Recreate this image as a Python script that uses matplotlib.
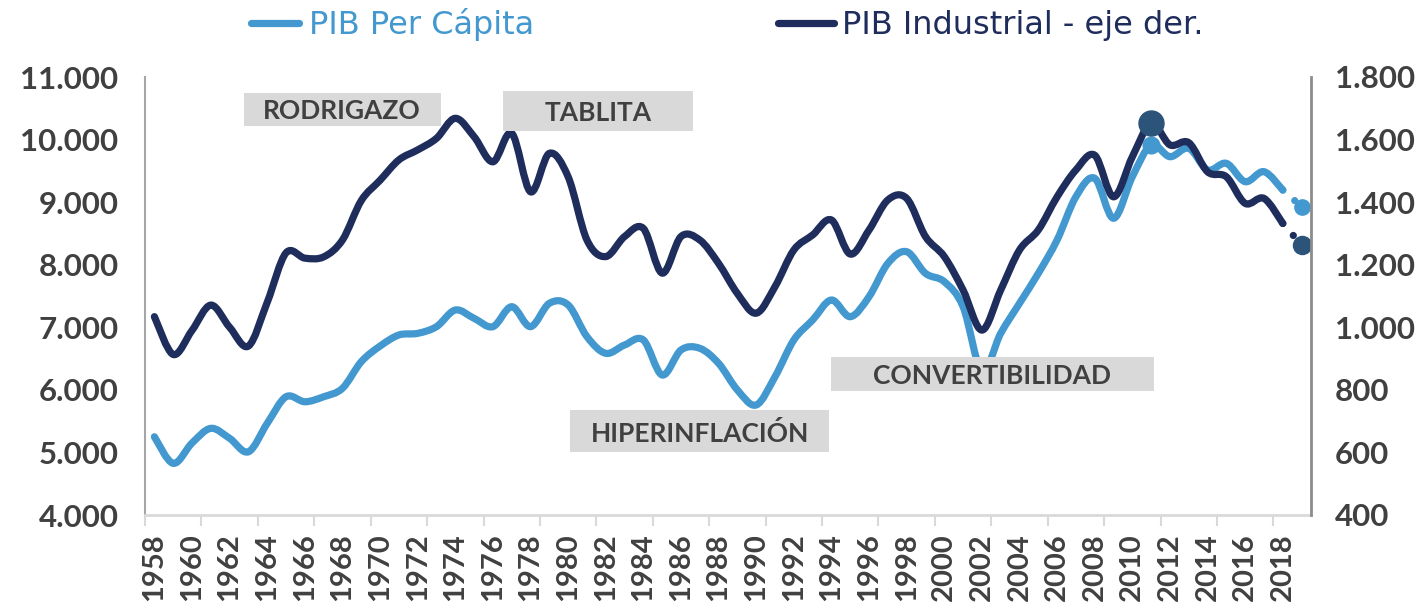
import numpy as np
import matplotlib
matplotlib.use("Agg")
import matplotlib.pyplot as plt
from matplotlib.path import Path
from matplotlib.patches import PathPatch, Rectangle
from matplotlib.lines import Line2D
from matplotlib.ticker import FuncFormatter, MultipleLocator, FixedLocator

years = list(range(1958, 2020))

# PIB per capita (eje izq.)
pib_pc = [5250, 4825, 5150, 5385, 5225, 5010, 5465, 5890, 5810, 5890,
          6025, 6450, 6700, 6877, 6903, 7010, 7276, 7143, 7010, 7329,
          7010, 7383, 7356, 6850, 6584, 6717, 6797, 6237, 6637, 6664,
          6424, 5998, 5758, 6210, 6797, 7116, 7436, 7169, 7489, 8022,
          8208, 7862, 7729, 7329, 6300, 6903, 7383, 7862, 8395, 9087,
          9381, 8742, 9407, 9913, 9726, 9860, 9514, 9620, 9327, 9487,
          9194, 8927]

# PIB industrial (eje der.)
pib_ind = [1034, 913, 990, 1071, 1000, 940, 1080, 1238, 1221, 1225,
           1279, 1405, 1470, 1535, 1567, 1604, 1668, 1609, 1529, 1620,
           1433, 1556, 1481, 1279, 1226, 1290, 1316, 1173, 1290, 1279,
           1204, 1108, 1045, 1130, 1247, 1295, 1343, 1234, 1311, 1407,
           1412, 1290, 1226, 1119, 991, 1119, 1247, 1311, 1417, 1503,
           1550, 1417, 1545, 1652, 1583, 1590, 1497, 1481, 1396, 1412,
           1332, 1263]

highlight_year = 2011

eventos = ["RODRIGAZO", "TABLITA", "HIPERINFLACIÓN", "CONVERTIBILIDAD"]

LIGHT = "#4399cf"
NAVY = "#1e2d5c"
DOT = "#2c5379"
TXT = "#404040"
W, H = 1422, 614


def smooth_path(xs, ys):
    # cubic bezier through the points (excel style smoothing)
    xs = np.asarray(xs, float)
    ys = np.asarray(ys, float)
    n = len(xs)
    verts = [(xs[0], ys[0])]
    codes = [Path.MOVETO]
    for i in range(n - 1):
        i0 = max(i - 1, 0)
        i3 = min(i + 2, n - 1)
        c1 = (xs[i] + (xs[i + 1] - xs[i0]) / 6, ys[i] + (ys[i + 1] - ys[i0]) / 6)
        c2 = (xs[i + 1] - (xs[i3] - xs[i]) / 6, ys[i + 1] - (ys[i3] - ys[i]) / 6)
        verts += [c1, c2, (xs[i + 1], ys[i + 1])]
        codes += [Path.CURVE4] * 3
    return Path(verts, codes)


def fx(x):
    return x / W


def fy(y):
    return 1 - y / H


fig = plt.figure(figsize=(W / 100, H / 100), dpi=100)
ax = fig.add_axes([fx(145), fy(515), fx(1311) - fx(145), fy(77) - fy(515)])
ax2 = ax.twinx()

# solid part until 2018, dotted last year
ax.add_patch(PathPatch(smooth_path(years[:-1], pib_pc[:-1]), fill=False,
                       edgecolor=LIGHT, lw=5.2, capstyle="round", joinstyle="round"))
ax.plot(years[-2:], pib_pc[-2:], color=LIGHT, lw=5.2, linestyle=(0, (0.01, 2.2)),
        solid_capstyle="round", dash_capstyle="round")
ax2.add_patch(PathPatch(smooth_path(years[:-1], pib_ind[:-1]), fill=False,
                        edgecolor=NAVY, lw=5.2, capstyle="round", joinstyle="round"))
ax2.plot(years[-2:], pib_ind[-2:], color=NAVY, lw=5.2, linestyle=(0, (0.01, 2.2)),
         dash_capstyle="round")

hi = years.index(highlight_year)
ax.plot([years[hi]], [pib_pc[hi]], "o", ms=12, color=LIGHT)
ax.plot([years[-1]], [pib_pc[-1]], "o", ms=11, color=LIGHT)
ax2.plot([years[hi]], [pib_ind[hi]], "o", ms=18, color=DOT)
ax2.plot([years[-1]], [pib_ind[-1]], "o", ms=13, color=DOT)

ax.set_xlim(1957.5, 2019.5)
ax.set_ylim(4000, 11000)
ax2.set_ylim(400, 1800)
ax.yaxis.set_major_locator(MultipleLocator(1000))
ax2.yaxis.set_major_locator(MultipleLocator(200))
fmt = FuncFormatter(lambda v, p: f"{int(v):,}".replace(",", "."))
ax.yaxis.set_major_formatter(fmt)
ax2.yaxis.set_major_formatter(fmt)

ax.xaxis.set_major_locator(FixedLocator(years[::2]))
ax.xaxis.set_minor_locator(FixedLocator(np.arange(1957.5, 2020, 3)))
ax.tick_params(axis="x", which="major", length=0, pad=13, labelrotation=90,
               labelsize=21, labelcolor=TXT)
ax.tick_params(axis="x", which="minor", length=8, width=1.5, color="#d9d9d9")
ax.tick_params(axis="y", length=0, pad=19, labelsize=22.5, labelcolor=TXT)
ax2.tick_params(axis="y", length=0, pad=17, labelsize=22.5, labelcolor=TXT)
for lab in ax.get_xticklabels() + ax.get_yticklabels() + ax2.get_yticklabels():
    lab.set_fontfamily("Lato")
    lab.set_fontweight("bold")

for a in (ax, ax2):
    for s in a.spines.values():
        s.set_visible(False)
ax.spines["left"].set_visible(True)
ax.spines["left"].set_color("#a6a6a6")
ax.spines["left"].set_linewidth(1.5)
ax.spines["bottom"].set_visible(True)
ax.spines["bottom"].set_color("#d9d9d9")
ax.spines["bottom"].set_linewidth(2)
ax2.spines["right"].set_visible(True)
ax2.spines["right"].set_color("#8c8c8c")
ax2.spines["right"].set_linewidth(2)

# event boxes (pixel layout)
boxes = [(244, 93, 441, 126, 342, 111),
         (503, 91, 693, 131, 598, 113),
         (570, 410, 829, 452, 700, 433),
         (831, 357, 1154, 391, 992, 376)]
for name, (l, t, r, b, tx, ty) in zip(eventos, boxes):
    fig.add_artist(Rectangle((fx(l), fy(b)), fx(r) - fx(l), fy(t) - fy(b),
                             transform=fig.transFigure, facecolor="#d9d9d9",
                             edgecolor="none", zorder=5))
    fig.text(fx(tx), fy(ty), name, ha="center", va="center", fontsize=19,
             fontfamily="Lato", fontweight="bold", color=TXT, zorder=6)

# legend
fig.add_artist(Line2D([fx(251), fx(299)], [fy(23), fy(23)], color=LIGHT, lw=5.2,
                      solid_capstyle="round", transform=fig.transFigure))
fig.text(fx(309), fy(34), "PIB Per Cápita", ha="left", va="baseline",
         fontsize=23, color=LIGHT, fontfamily="DejaVu Sans")
fig.add_artist(Line2D([fx(778), fx(834)], [fy(23), fy(23)], color=NAVY, lw=5.2,
                      solid_capstyle="round", transform=fig.transFigure))
fig.text(fx(842), fy(34), "PIB Industrial - eje der.", ha="left", va="baseline",
         fontsize=23, color=NAVY, fontfamily="DejaVu Sans")

fig.savefig("out.png", dpi=100)
